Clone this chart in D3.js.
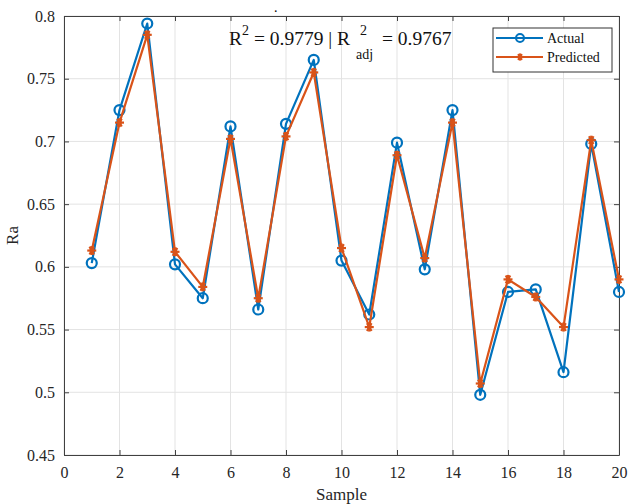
<!DOCTYPE html>
<html>
<head>
<meta charset="utf-8">
<script src="https://cdn.jsdelivr.net/npm/d3@7"></script>
<style>
body{margin:0;background:#fff;}
svg{font-family:"Liberation Serif","Times New Roman",serif;}
</style>
</head>
<body>
<svg id="chart" width="629" height="504"></svg>
<script>
// values
var samples = [1,2,3,4,5,6,7,8,9,10,11,12,13,14,15,16,17,18,19,20];
var actual = [0.603,0.725,0.794,0.602,0.575,0.712,0.566,0.714,0.765,0.605,0.562,0.699,0.598,0.725,0.498,0.580,0.582,0.516,0.698,0.580];
var predicted = [0.613,0.715,0.785,0.612,0.584,0.702,0.575,0.704,0.755,0.615,0.552,0.689,0.607,0.715,0.507,0.590,0.576,0.552,0.701,0.590];
var xTicks = [0,2,4,6,8,10,12,14,16,18,20];
var yTicks = [0.45,0.5,0.55,0.6,0.65,0.7,0.75,0.8];
var seriesNames = ['Actual','Predicted'];
var colors = ['#0072BD','#D95319'];

var serif = 'Liberation Serif, Times New Roman, serif';
var m = {left:64, right:10, top:16, bottom:49};
var W = 629, H = 504;
var svg = d3.select('#chart');

var x = d3.scaleLinear().domain([0,20]).range([m.left, W-m.right]);
var y = d3.scaleLinear().domain([0.45,0.8]).range([H-m.bottom, m.top]);

//grid
svg.append('g').selectAll('line').data(xTicks).enter().append('line')
	.attr('x1',function(d){return x(d)}).attr('x2',function(d){return x(d)})
	.attr('y1',y(0.45)).attr('y2',y(0.8))
	.attr('stroke','#e3e3e3').attr('stroke-width',1);
svg.append('g').selectAll('line').data(yTicks).enter().append('line')
	.attr('y1',function(d){return y(d)}).attr('y2',function(d){return y(d)})
	.attr('x1',x(0)).attr('x2',x(20))
	.attr('stroke','#e3e3e3').attr('stroke-width',1);

//axes, box style
function styleAxis(g){
	g.attr('font-family', serif).attr('font-size', 16);
	g.select('.domain').attr('stroke','#404040');
	g.selectAll('.tick line').attr('stroke','#404040');
	g.selectAll('.tick text').attr('fill','#262626');
}
svg.append('g').attr('transform','translate(0,'+y(0.45)+')')
	.call(d3.axisBottom(x).tickValues(xTicks).tickSize(-5).tickPadding(12).tickSizeOuter(0))
	.call(styleAxis);
svg.append('g').attr('transform','translate(0,'+y(0.8)+')')
	.call(d3.axisTop(x).tickValues(xTicks).tickSize(-5).tickFormat('').tickSizeOuter(0))
	.call(styleAxis);
svg.append('g').attr('transform','translate('+x(0)+',0)')
	.call(d3.axisLeft(y).tickValues(yTicks).tickSize(-5).tickPadding(9).tickSizeOuter(0)
		.tickFormat(function(d){return d3.format('')(+d.toFixed(2))}))
	.call(styleAxis);
svg.append('g').attr('transform','translate('+x(20)+',0)')
	.call(d3.axisRight(y).tickValues(yTicks).tickSize(-5).tickFormat('').tickSizeOuter(0))
	.call(styleAxis);

//labels
svg.append('text').attr('x',(x(0)+x(20))/2).attr('y',500)
	.attr('text-anchor','middle').style('font-size','17px').attr('fill','#262626').text('Sample');
svg.append('text').attr('transform','translate(18,'+(y(0.625))+') rotate(-90)')
	.attr('text-anchor','middle').style('font-size','17px').attr('fill','#262626').text('Ra');
svg.append('text').attr('x',274).attr('y',12).style('font-size','14px').attr('fill','#000').text('.');

//r squared text
var t = svg.append('text').attr('x',229).attr('y',45).style('font-size','19.5px').attr('fill','#111');
t.append('tspan').text('R');
t.append('tspan').attr('dy',-10).style('font-size','14px').text('2');
t.append('tspan').attr('dy',10).text(' = 0.9779 | R');
svg.append('text').attr('x',360).attr('y',35).style('font-size','14px').attr('fill','#111').text('2');
svg.append('text').attr('x',356).attr('y',59).style('font-size','14px').attr('fill','#111').text('adj');
svg.append('text').attr('x',382).attr('y',45).style('font-size','19.5px').attr('fill','#111').text('= 0.9767');

//lines
var line = d3.line().x(function(d){return x(d[0])}).y(function(d){return y(d[1])});
var series = [actual, predicted].map(function(vals){
	return samples.map(function(s,i){return [s, vals[i]]});
});

function drawStar(g, cx, cy, col, r){
	[0,60,120].forEach(function(deg){
		var rad = deg*Math.PI/180;
		g.append('line')
			.attr('x1',cx - r*Math.cos(rad)).attr('y1',cy - r*Math.sin(rad))
			.attr('x2',cx + r*Math.cos(rad)).attr('y2',cy + r*Math.sin(rad))
			.attr('stroke',col).attr('stroke-width',2.2);
	});
	g.append('line').attr('x1',cx).attr('x2',cx).attr('y1',cy-r).attr('y2',cy+r)
		.attr('stroke',col).attr('stroke-width',2.2);
	g.append('circle').attr('cx',cx).attr('cy',cy).attr('r',r*0.55).attr('fill',col);
}

series.forEach(function(data, k){
	svg.append('path').datum(data).attr('d',line)
		.attr('fill','none').attr('stroke',colors[k]).attr('stroke-width',2.2)
		.attr('stroke-linejoin','round');
	var g = svg.append('g');
	if (k==0){
		g.selectAll('circle').data(data).enter().append('circle')
			.attr('cx',function(d){return x(d[0])}).attr('cy',function(d){return y(d[1])})
			.attr('r',5).attr('fill','none').attr('stroke',colors[k]).attr('stroke-width',2.2);
	} else {
		data.forEach(function(d){ drawStar(g, x(d[0]), y(d[1]), colors[k], 4.5) });
	}
});

//legend
var lg = svg.append('g');
lg.append('rect').attr('x',493).attr('y',28).attr('width',119).attr('height',44)
	.attr('fill','#fff').attr('stroke','#333').attr('stroke-width',1);
seriesNames.forEach(function(name,k){
	var ly = 38 + k*19;
	lg.append('line').attr('x1',496).attr('x2',543).attr('y1',ly).attr('y2',ly)
		.attr('stroke',colors[k]).attr('stroke-width',2.2);
	if (k==0){
		lg.append('circle').attr('cx',520).attr('cy',ly).attr('r',4)
			.attr('fill','none').attr('stroke',colors[k]).attr('stroke-width',2);
	} else {
		drawStar(lg, 520, ly, colors[k], 3.5);
	}
	lg.append('text').attr('x',547).attr('y',ly+5).style('font-size','14px').attr('fill','#111').text(name);
});
</script>
</body>
</html>
